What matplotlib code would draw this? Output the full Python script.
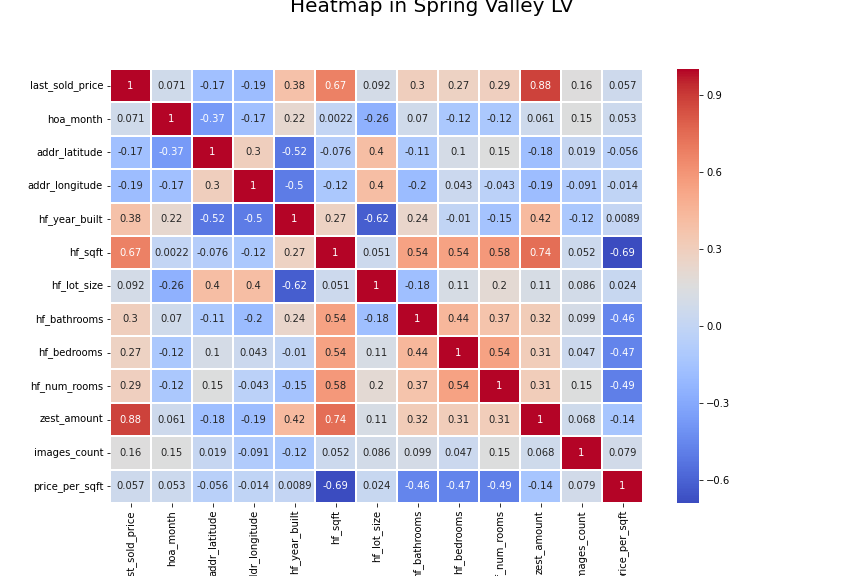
import matplotlib
matplotlib.use("Agg")
import matplotlib.pyplot as plt
import seaborn as sns
import numpy as np
import pandas as pd

columns = ['last_sold_price', 'hoa_month', 'addr_latitude', 'addr_longitude',
           'hf_year_built', 'hf_sqft', 'hf_lot_size', 'hf_bathrooms',
           'hf_bedrooms', 'hf_num_rooms', 'zest_amount', 'images_count',
           'price_per_sqft']

last_sold_price = [1, 0.071, -0.17, -0.19, 0.38, 0.67, 0.092, 0.3, 0.27, 0.29, 0.88, 0.16, 0.057]
hoa_month = [0.071, 1, -0.37, -0.17, 0.22, 0.0022, -0.26, 0.07, -0.12, -0.12, 0.061, 0.15, 0.053]
addr_latitude = [-0.17, -0.37, 1, 0.3, -0.52, -0.076, 0.4, -0.11, 0.1, 0.15, -0.18, 0.019, -0.056]
addr_longitude = [-0.19, -0.17, 0.3, 1, -0.5, -0.12, 0.4, -0.2, 0.043, -0.043, -0.19, -0.091, -0.014]
hf_year_built = [0.38, 0.22, -0.52, -0.5, 1, 0.27, -0.62, 0.24, -0.01, -0.15, 0.42, -0.12, 0.0089]
hf_sqft = [0.67, 0.0022, -0.076, -0.12, 0.27, 1, 0.051, 0.54, 0.54, 0.58, 0.74, 0.052, -0.69]
hf_lot_size = [0.092, -0.26, 0.4, 0.4, -0.62, 0.051, 1, -0.18, 0.11, 0.2, 0.11, 0.086, 0.024]
hf_bathrooms = [0.3, 0.07, -0.11, -0.2, 0.24, 0.54, -0.18, 1, 0.44, 0.37, 0.32, 0.099, -0.46]
hf_bedrooms = [0.27, -0.12, 0.1, 0.043, -0.01, 0.54, 0.11, 0.44, 1, 0.54, 0.31, 0.047, -0.47]
hf_num_rooms = [0.29, -0.12, 0.15, -0.043, -0.15, 0.58, 0.2, 0.37, 0.54, 1, 0.31, 0.15, -0.49]
zest_amount = [0.88, 0.061, -0.18, -0.19, 0.42, 0.74, 0.11, 0.32, 0.31, 0.31, 1, 0.068, -0.14]
images_count = [0.16, 0.15, 0.019, -0.091, -0.12, 0.052, 0.086, 0.099, 0.047, 0.15, 0.068, 1, 0.079]
price_per_sqft = [0.057, 0.053, -0.056, -0.014, 0.0089, -0.69, 0.024, -0.46, -0.47, -0.49, -0.14, 0.079, 1]

corr = pd.DataFrame([last_sold_price, hoa_month, addr_latitude, addr_longitude,
                     hf_year_built, hf_sqft, hf_lot_size, hf_bathrooms,
                     hf_bedrooms, hf_num_rooms, zest_amount, images_count,
                     price_per_sqft], index=columns, columns=columns)

fig = plt.figure(figsize=(12, 8), dpi=72)
W, H = 864, 576
ax = fig.add_axes([110 / W, 1 - 503 / H, 533 / W, 434 / H])
cax = fig.add_axes([677 / W, 1 - 503 / H, 22 / W, 434 / H])

sns.heatmap(corr, annot=True, cmap='coolwarm', linewidths=1.5, linecolor='white',
            ax=ax, cbar_ax=cax, annot_kws={'size': 10})
ax.tick_params(axis='both', labelsize=10, length=3.5)
ax.set_yticklabels(columns, rotation=0)
ax.set_xticklabels(columns, rotation=90)
cax.set_yticks([-0.6, -0.3, 0.0, 0.3, 0.6, 0.9])
cax.tick_params(labelsize=10, length=3.5)

fig.text(0.5, 1 - 12 / H, 'Heatmap in Spring Valley LV', ha='center', va='baseline', fontsize=20)

plt.savefig('out.png', dpi=72)
